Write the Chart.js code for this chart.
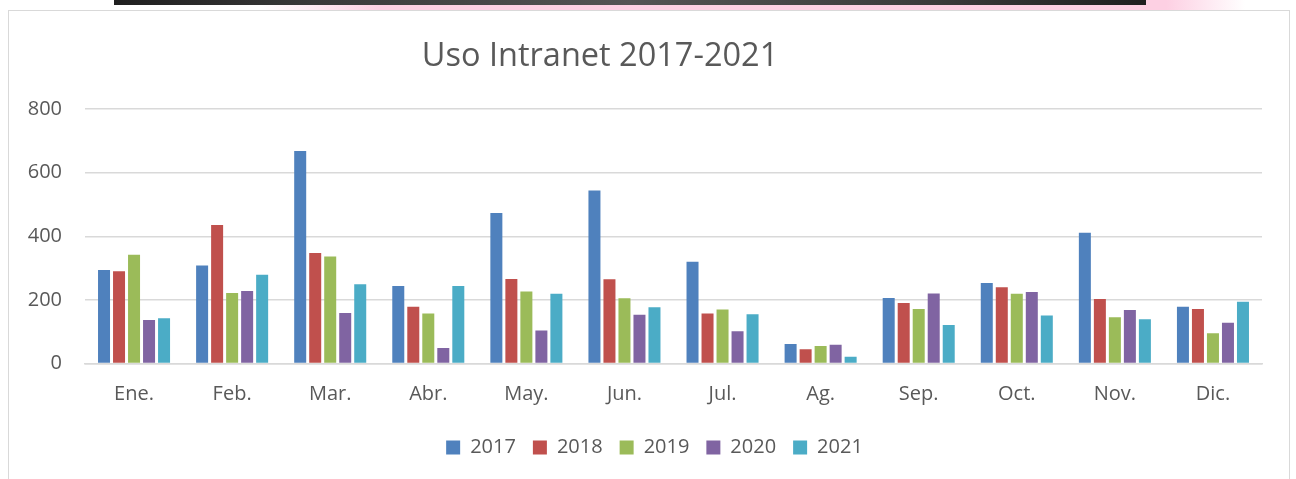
<!DOCTYPE html>
<html>
<head>
<meta charset="utf-8">
<script src="https://cdn.jsdelivr.net/npm/chart.js@4"></script>
<style>
  html, body { margin: 0; padding: 0; background: #ffffff; width: 1296px; height: 479px; overflow: hidden; position: relative; }
  #pink { position: absolute; left: 260px; top: 0; width: 985px; height: 10px;
          background: linear-gradient(to right, rgba(252,208,228,0) 0%, #fdd0e3 12%, #fdd0e3 92%, rgba(252,208,228,0) 100%); }
  #strip { position: absolute; left: 114px; top: 0; width: 1032px; height: 5px;
           background: linear-gradient(to right, #1f1f1f 0%, #3a3a3a 20%, #545454 50%, #3a3a3a 80%, #1f1f1f 100%); }
  #frame { position: absolute; left: 8px; top: 10px; width: 1280px; height: 480px; border: 1px solid #d9d9d9; background: #fff; }
  #c { position: absolute; left: 0; top: 0; }
</style>
</head>
<body>
<div id="pink"></div>
<div id="strip"></div>
<div id="frame"><canvas id="c" width="1280" height="468"></canvas></div>
<script>
const chartTitle = "Uso Intranet 2017-2021";
const months = ["Ene.", "Feb.", "Mar.", "Abr.", "May.", "Jun.", "Jul.", "Ag.", "Sep.", "Oct.", "Nov.", "Dic."];
const years = ["2017", "2018", "2019", "2020", "2021"];
const v2017 = [294, 308, 668, 244, 473, 544, 320, 61, 206, 253, 411, 178];
const v2018 = [290, 435, 347, 178, 266, 265, 157, 45, 190, 240, 203, 171];
const v2019 = [342, 222, 336, 157, 226, 205, 170, 55, 171, 219, 145, 95];
const v2020 = [137, 228, 159, 49, 104, 153, 101, 59, 220, 225, 168, 128];
const v2021 = [142, 279, 249, 244, 219, 177, 155, 21, 121, 151, 139, 194];
const yTicks = [0, 200, 400, 600, 800];
const colors = ["#4F81BD", "#C0504D", "#9BBB59", "#8064A2", "#4BACC6"];

const seriesValues = [v2017, v2018, v2019, v2020, v2021];
const FONT = "'Open Sans', sans-serif";
const TXT = "#595959";

const titlePlugin = {
  id: 'customTitle',
  afterDraw(chart) {
    const ctx = chart.ctx;
    ctx.save();
    ctx.font = "32.5px " + FONT;
    ctx.fillStyle = TXT;
    ctx.textAlign = "center";
    ctx.textBaseline = "middle";
    ctx.fillText(chartTitle, 591, 46);
    ctx.restore();
  }
};

const legendShift = {
  id: 'legendShift',
  afterLayout(chart) {
    if (chart.legend) {
      chart.legend.left += 19;
      chart.legend.right += 19;
    }
  }
};

new Chart(document.getElementById('c'), {
  type: 'bar',
  data: {
    labels: months,
    datasets: years.map((y, i) => ({
      label: y,
      data: seriesValues[i],
      backgroundColor: colors[i],
      borderWidth: 0,
      categoryPercentage: 0.765,
      barPercentage: 0.8
    }))
  },
  plugins: [titlePlugin, legendShift],
  options: {
    responsive: false,
    animation: false,
    layout: { padding: { top: 98, right: 27, left: 0, bottom: 11.5 } },
    plugins: {
      title: { display: false },
      tooltip: { enabled: false },
      legend: {
        position: 'bottom',
        labels: {
          boxWidth: 14, boxHeight: 14, padding: 17,
          color: TXT, font: { family: FONT, size: 20 }
        }
      }
    },
    scales: {
      x: {
        grid: { display: false, drawTicks: false },
        border: { display: true, color: '#d9d9d9', width: 1.5 },
        ticks: { color: TXT, font: { family: FONT, size: 20 }, padding: 18.5 },
        afterFit(scale) { scale.height = 57; }
      },
      y: {
        min: 0, max: 800,
        afterBuildTicks(scale) { scale.ticks = yTicks.map(v => ({ value: v })); },
        grid: { color: '#d9d9d9', lineWidth: 1.5, drawTicks: false },
        border: { display: false },
        ticks: { color: TXT, font: { family: FONT, size: 20 }, padding: 23 },
        afterFit(scale) { scale.width = 76; }
      }
    }
  }
});
</script>
</body>
</html>
